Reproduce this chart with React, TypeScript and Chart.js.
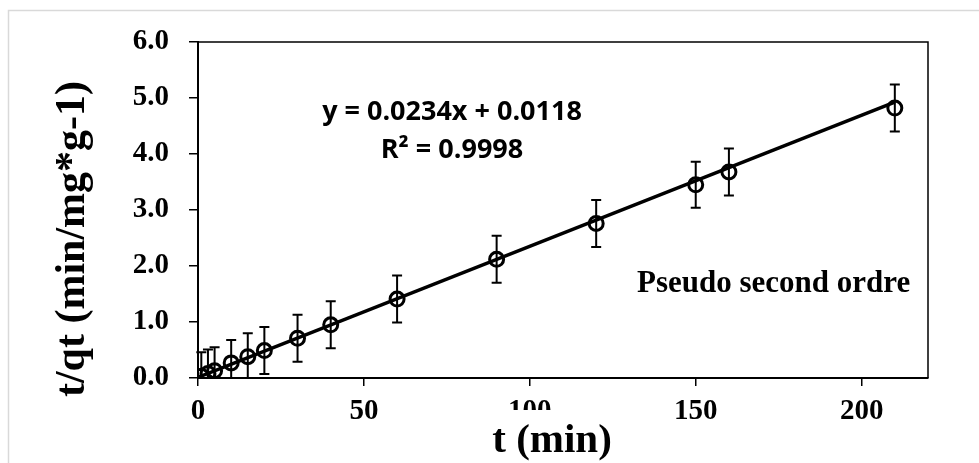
import React, { useEffect, useRef } from "react";
import { Chart, registerables } from "chart.js";

Chart.register(...registerables);

const timeMin: number[] = [1, 3, 5, 10, 15, 20, 30, 40, 60, 90, 120, 150, 160, 210];
const tOverQt: number[] = [0.03, 0.08, 0.13, 0.27, 0.38, 0.49, 0.71, 0.95, 1.41, 2.12, 2.76, 3.45, 3.68, 4.82];
const errBars: number[] = [0.43, 0.43, 0.42, 0.41, 0.42, 0.42, 0.42, 0.42, 0.42, 0.42, 0.42, 0.41, 0.42, 0.42];
const trendSlope = 0.0234;
const trendIntercept = 0.0118;
const trendRange: number[] = [0, 210];
const xTicks: number[] = [0, 50, 100, 150, 200];
const yTicks: number[] = [0, 1, 2, 3, 4, 5, 6];
const eqLine1 = "y = 0.0234x + 0.0118";
const eqLine2 = "R² = 0.9998";
const modelLabel = "Pseudo second ordre";
const xTitle = "t (min)";
const yTitle = "t/qt (min/mg*g-1)";

const SERIF = "'Liberation Serif', 'Times New Roman', serif";
const SANS = "'Open Sans', 'Liberation Sans', sans-serif";

const decorPlugin = {
  id: "decor",
  beforeDraw(chart: any) {
    const ctx = chart.ctx;
    ctx.save();
    ctx.fillStyle = "#ffffff";
    ctx.fillRect(0, 0, chart.width, chart.height);
    ctx.strokeStyle = "#d9d9d9";
    ctx.lineWidth = 1.5;
    ctx.strokeRect(8.5, 10.5, 3000, 3000);
    ctx.restore();
  },
  afterDatasetsDraw(chart: any) {
    const ctx = chart.ctx;
    const xs = chart.scales.x;
    const ys = chart.scales.y;
    const area = chart.chartArea;
    ctx.save();
    ctx.beginPath();
    ctx.rect(area.left - 10, area.top, area.right - area.left + 20, area.bottom - area.top);
    ctx.clip();
    ctx.strokeStyle = "#000";
    ctx.lineWidth = 2;
    for (let i = 0; i < timeMin.length; i++) {
      const px = xs.getPixelForValue(timeMin[i]);
      const top = ys.getPixelForValue(tOverQt[i] + errBars[i]);
      const bot = ys.getPixelForValue(tOverQt[i] - errBars[i]);
      ctx.beginPath();
      ctx.moveTo(px, top);
      ctx.lineTo(px, bot);
      ctx.moveTo(px - 5, top);
      ctx.lineTo(px + 5, top);
      ctx.moveTo(px - 5, bot);
      ctx.lineTo(px + 5, bot);
      ctx.stroke();
    }
    ctx.restore();
  },
  afterDraw(chart: any) {
    const ctx = chart.ctx;
    const area = chart.chartArea;
    ctx.save();
    ctx.strokeStyle = "#000";
    ctx.lineWidth = 1.5;
    ctx.beginPath();
    ctx.moveTo(area.left, area.top);
    ctx.lineTo(area.right, area.top);
    ctx.lineTo(area.right, area.bottom);
    ctx.stroke();

    ctx.fillStyle = "#000";
    ctx.textAlign = "center";
    ctx.textBaseline = "alphabetic";
    ctx.font = `bold 27px ${SANS}`;
    ctx.fillText(eqLine1, 452, 120);
    ctx.fillText(eqLine2, 452, 158);

    ctx.textAlign = "left";
    ctx.font = `bold 31px ${SERIF}`;
    ctx.fillText(modelLabel, 637, 292);

    ctx.font = `bold 41px ${SERIF}`;
    const w = ctx.measureText(xTitle).width;
    ctx.fillStyle = "#fff";
    ctx.fillRect(552 - w / 2 - 4, 410, w + 8, 60);
    ctx.fillStyle = "#000";
    ctx.textAlign = "center";
    ctx.fillText(xTitle, 552, 452);

    ctx.font = `bold 42px ${SERIF}`;
    ctx.translate(84, 239);
    ctx.rotate(-Math.PI / 2);
    ctx.fillText(yTitle, 0, 0);
    ctx.restore();
  },
};

export default function App() {
  const ref = useRef<HTMLCanvasElement | null>(null);
  useEffect(() => {
    document.body.style.margin = "0";
    const canvas = ref.current;
    if (!canvas) return;
    const chart = new Chart(canvas, {
      type: "scatter",
      data: {
        datasets: [
          {
            label: "trend",
            data: trendRange.map((x) => ({ x, y: trendSlope * x + trendIntercept })),
            showLine: true,
            borderColor: "#000",
            borderWidth: 3.5,
            pointRadius: 0,
            fill: false,
          },
          {
            label: "data",
            data: timeMin.map((x, i) => ({ x, y: tOverQt[i] })),
            showLine: false,
            pointStyle: "circle",
            pointRadius: 7,
            pointBorderWidth: 3,
            pointBorderColor: "#000",
            pointBackgroundColor: "rgba(0,0,0,0)",
          } as any,
        ],
      },
      options: {
        animation: false,
        responsive: false,
        maintainAspectRatio: false,
        layout: { padding: { left: 0, top: 42, right: 51, bottom: 0 } },
        plugins: { legend: { display: false }, tooltip: { enabled: false } },
        scales: {
          x: {
            type: "linear",
            min: 0,
            max: 220,
            afterFit: (s: any) => {
              s.height = 85;
            },
            afterBuildTicks: (s: any) => {
              s.ticks = xTicks.map((v) => ({ value: v }));
            },
            ticks: {
              includeBounds: false,
              color: "#000",
              font: { family: SERIF, size: 29, weight: "bold" },
              padding: 8,
              maxRotation: 0,
              callback: (v: any) => String(v),
            },
            grid: { display: true, drawOnChartArea: false, drawTicks: true, tickLength: 8, color: "#000", lineWidth: 1.5 },
            border: { display: true, color: "#000", width: 2 },
          },
          y: {
            type: "linear",
            min: 0,
            max: 6,
            afterFit: (s: any) => {
              s.width = 198;
            },
            afterBuildTicks: (s: any) => {
              s.ticks = yTicks.map((v) => ({ value: v }));
            },
            ticks: {
              includeBounds: false,
              color: "#000",
              font: { family: SERIF, size: 29, weight: "bold" },
              padding: 20,
              callback: (v: any) => Number(v).toFixed(1),
            },
            grid: { display: true, drawOnChartArea: false, drawTicks: true, tickLength: 9, color: "#000", lineWidth: 1.5 },
            border: { display: true, color: "#000", width: 2 },
          },
        },
      },
      plugins: [decorPlugin],
    });
    return () => chart.destroy();
  }, []);
  return (
    <div style={{ position: "fixed", left: 0, top: 0, width: 979, height: 463 }}>
      <canvas ref={ref} width={979} height={463} style={{ display: "block" }} />
    </div>
  );
}
